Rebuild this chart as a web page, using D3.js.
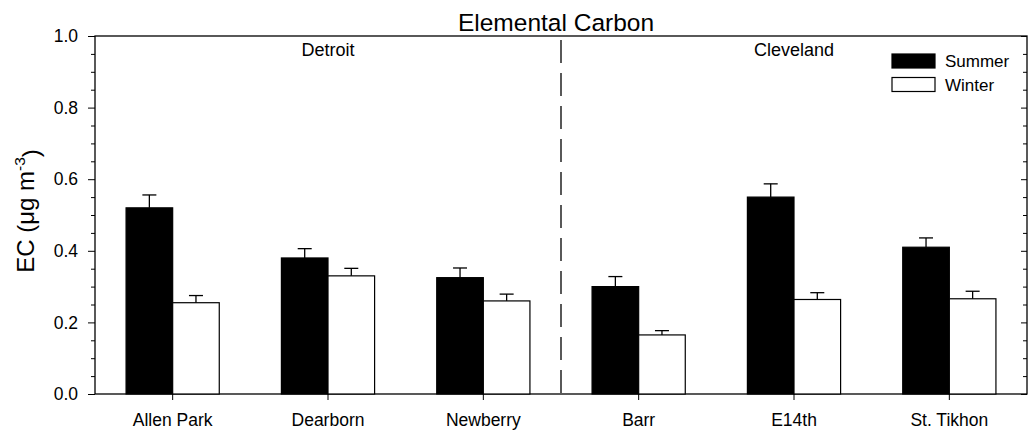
<!DOCTYPE html>
<html>
<head>
<meta charset="utf-8">
<script src="https://cdn.jsdelivr.net/npm/d3@7"></script>
<style>
	body { margin: 0; background: #fff; }
	text { font-family: "Liberation Sans", Arial, sans-serif; fill: #000; }
</style>
</head>
<body>
<div id="chart"></div>
<script>
	// data
	var sites = ["Allen Park", "Dearborn", "Newberry", "Barr", "E14th", "St. Tikhon"];
	var summer = [0.52, 0.38, 0.325, 0.30, 0.55, 0.41];
	var summerErr = [0.036, 0.026, 0.027, 0.028, 0.037, 0.026];
	var winter = [0.255, 0.33, 0.26, 0.165, 0.264, 0.266];
	var winterErr = [0.02, 0.021, 0.019, 0.012, 0.019, 0.021];
	var seasons = ["Summer", "Winter"];
	var regions = ["Detroit", "Cleveland"];
	var regionSites = ["Dearborn", "E14th"];
	var yTicks = [0, 0.2, 0.4, 0.6, 0.8, 1.0];

	var width = 1033, height = 432;
	var margin = { top: 36, right: 6, bottom: 38, left: 95 };

	var svg = d3.select("#chart").append("svg")
		.attr("width", width).attr("height", height);

	var x = d3.scaleBand().domain(sites)
		.range([margin.left, width - margin.right])
		.paddingInner(0.4).paddingOuter(0.2);
	var xs = d3.scaleBand().domain(seasons).range([0, x.bandwidth()]);
	var y = d3.scaleLinear().domain([0, 1]).range([height - margin.bottom, margin.top]);
	var fill = d3.scaleOrdinal().domain(seasons).range(["#000", "#fff"]);

	var minor = d3.range(0.05, 1, 0.05).filter(v => Math.abs(v * 5 - Math.round(v * 5)) > 1e-6);

	// left axis: major + minor ticks outward
	svg.append("g").attr("transform", `translate(${margin.left},0)`)
		.call(d3.axisLeft(y).tickValues(minor).tickSize(4).tickFormat(""))
		.call(g => g.select(".domain").remove());
	svg.append("g").attr("transform", `translate(${margin.left},0)`)
		.call(d3.axisLeft(y).tickValues(yTicks).tickSize(7).tickPadding(10).tickFormat(d3.format(".1f")))
		.call(g => g.select(".domain").remove())
		.call(g => g.attr("font-family", null))
		.call(g => g.selectAll("text").style("font-size", "17.5px"));

	// right axis: ticks point inward
	var xr = width - margin.right;
	svg.append("g").attr("transform", `translate(${xr},0)`)
		.call(d3.axisRight(y).tickValues(minor).tickSize(-4).tickFormat(""))
		.call(g => g.select(".domain").remove());
	svg.append("g").attr("transform", `translate(${xr},0)`)
		.call(d3.axisRight(y).tickValues(yTicks).tickSize(-6).tickFormat(""))
		.call(g => g.select(".domain").remove());

	// x axis
	svg.append("g").attr("transform", `translate(0,${y(0)})`)
		.call(d3.axisBottom(x).tickSize(6).tickPadding(14).tickSizeOuter(0))
		.call(g => g.select(".domain").remove())
		.call(g => g.attr("font-family", null))
		.call(g => g.selectAll("text").style("font-size", "17.5px").attr("dy", "0.71em"));

	// frame
	svg.append("rect")
		.attr("x", margin.left).attr("y", y(1))
		.attr("width", xr - margin.left).attr("height", y(0) - y(1))
		.attr("fill", "none").attr("stroke", "#000").attr("stroke-width", 1.3);

	// bars
	var rows = sites.map((s, i) => ({
		site: s,
		vals: [
			{ season: "Summer", v: summer[i], e: summerErr[i] },
			{ season: "Winter", v: winter[i], e: winterErr[i] }
		]
	}));
	var grp = svg.append("g").selectAll("g").data(rows).join("g")
		.attr("transform", d => `translate(${x(d.site)},0)`);
	grp.selectAll("rect").data(d => d.vals).join("rect")
		.attr("x", d => xs(d.season)).attr("y", d => y(d.v))
		.attr("width", xs.bandwidth()).attr("height", d => y(0) - y(d.v))
		.attr("fill", d => fill(d.season)).attr("stroke", "#000").attr("stroke-width", 1.2);

	// error bars (upper only)
	var eb = grp.selectAll("g.err").data(d => d.vals).join("g").attr("class", "err")
		.attr("transform", d => `translate(${xs(d.season) + xs.bandwidth() / 2},0)`);
	eb.append("line").attr("y1", d => y(d.v)).attr("y2", d => y(d.v + d.e))
		.attr("stroke", "#000").attr("stroke-width", 1.3);
	eb.append("line").attr("x1", -7).attr("x2", 7)
		.attr("y1", d => y(d.v + d.e)).attr("y2", d => y(d.v + d.e))
		.attr("stroke", "#000").attr("stroke-width", 1.3);

	// divider between the two cities
	var xd = (x("Newberry") + x.bandwidth() / 2 + x("Barr") + x.bandwidth() / 2) / 2;
	svg.append("line").attr("x1", xd).attr("x2", xd)
		.attr("y1", y(1) + 4).attr("y2", y(0))
		.attr("stroke", "#000").attr("stroke-width", 1.3).attr("stroke-dasharray", "23,10");

	// city labels
	svg.selectAll("text.region").data(regions).join("text").attr("class", "region")
		.attr("x", (d, i) => x(regionSites[i]) + x.bandwidth() / 2)
		.attr("y", 56).attr("text-anchor", "middle").style("font-size", "18px")
		.text(d => d);

	// title
	svg.append("text").attr("x", 556).attr("y", 31).attr("text-anchor", "middle")
		.style("font-size", "24.5px").text("Elemental Carbon");

	// y label
	var yl = svg.append("text")
		.attr("transform", `translate(34,${(y(0) + y(1)) / 2 - 4}) rotate(-90)`)
		.attr("text-anchor", "middle").style("font-size", "24px");
	yl.append("tspan").text("EC (\u03bcg m");
	yl.append("tspan").attr("dy", "-0.6em").style("font-size", "15.5px").text("-3");
	yl.append("tspan").attr("dy", "0.6em").text(")");

	// legend
	var lg = svg.append("g").selectAll("g").data(seasons).join("g")
		.attr("transform", (d, i) => `translate(892,${54 + i * 23.5})`);
	lg.append("rect").attr("width", 43).attr("height", 14)
		.attr("fill", d => fill(d)).attr("stroke", "#000").attr("stroke-width", 1.2);
	lg.append("text").attr("x", 53).attr("y", 13).style("font-size", "17px").text(d => d);
</script>
</body>
</html>
